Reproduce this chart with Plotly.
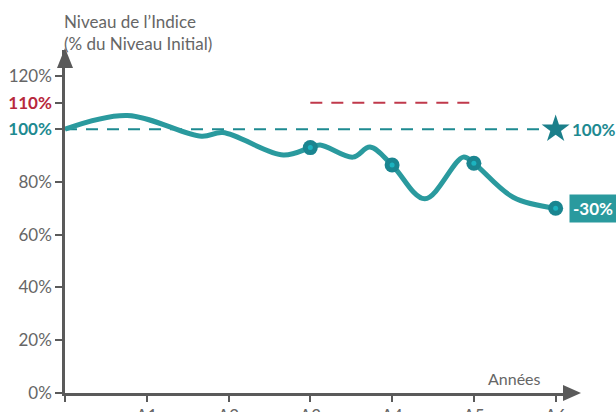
import plotly.graph_objects as go

# ---- data ----
curve_x = [0, 0.76, 1.67, 1.93, 2.67, 3.0, 3.12, 3.52, 3.73, 4.0, 4.40, 4.87, 5.0, 5.48, 6.0]
curve_y = [100, 105.2, 97.3, 98.7, 90.2, 93.0, 94.0, 89.4, 93.2, 86.4, 73.6, 89.4, 87.1, 74.2, 70.0]
obs_x = [3, 4, 5, 6]
obs_y = [93.0, 86.4, 87.1, 70.0]
x_ticks = [0, 1, 2, 3, 4, 5, 6]
x_labels = ["", "A1", "A2", "A3", "A4", "A5", "A6"]
y_ticks = [0, 20, 40, 60, 80, 100, 110, 120]
y_labels = ["0%", "20%", "40%", "60%", "80%",
            "<b><span style='color:#1e8a91'>100%</span></b>",
            "<b><span style='color:#b8283c'>110%</span></b>", "120%"]
initial_level = 100
barrier_level = 110
barrier_x = [3, 5]
final_label = "-30%"

TEAL = "#2a9a9e"
DARK = "#1a8590"
GRAY = "#5a5a5a"
FONT = "Lato"

W, H = 616, 412
L, R, T, B = 65, 44, 50, 19
XR = [0, 6.2]
YR = [0, 130]

def px2paper(px, py):
    return (px - L) / (W - L - R), (H - B - py) / (H - T - B)

fig = go.Figure()

# initial level dashed line
fig.add_trace(go.Scatter(x=[0, 5.85], y=[initial_level, initial_level], mode="lines",
                         line=dict(color="#1e8a91", width=2, dash="12px,9px"),
                         hoverinfo="skip", showlegend=False))
# barrier dashed line
fig.add_trace(go.Scatter(x=barrier_x, y=[barrier_level, barrier_level], mode="lines",
                         line=dict(color="#c0394b", width=2, dash="12px,9px"),
                         hoverinfo="skip", showlegend=False))
# curve
fig.add_trace(go.Scatter(x=curve_x, y=curve_y, mode="lines",
                         line=dict(color=TEAL, width=5, shape="spline", smoothing=1.0),
                         hoverinfo="skip", showlegend=False))
# observation markers
fig.add_trace(go.Scatter(x=obs_x, y=obs_y, mode="markers",
                         marker=dict(size=15, color=DARK), showlegend=False, hoverinfo="skip"))
fig.add_trace(go.Scatter(x=obs_x, y=obs_y, mode="markers",
                         marker=dict(size=5, color="#1cb3c0"), showlegend=False, hoverinfo="skip"))
# star
fig.add_trace(go.Scatter(x=[6], y=[initial_level], mode="markers",
                         marker=dict(symbol="star", size=21, color="#1b7f8a"),
                         showlegend=False, hoverinfo="skip", cliponaxis=False))

axis_common = dict(showgrid=False, zeroline=False, automargin=False,
                   showline=True, linecolor=GRAY, linewidth=2.5, ticks="outside",
                   tickwidth=2, tickcolor=GRAY, tickfont=dict(size=17, color="#666666"))

fig.update_layout(
    width=W, height=H, margin=dict(l=L, r=R, t=T, b=B, autoexpand=False),
    paper_bgcolor="white", plot_bgcolor="white",
    font=dict(family=FONT, size=17, color="#666666"),
    xaxis=dict(range=XR, tickvals=x_ticks, ticktext=x_labels, ticklen=6, **axis_common),
    yaxis=dict(range=YR, tickvals=y_ticks, ticktext=y_labels, ticklen=7, **axis_common),
)

# arrowheads
x0, y0 = px2paper(65, 48)
xa, ya = px2paper(57, 68)
xb, yb = px2paper(73, 68)
fig.add_shape(type="path", xref="paper", yref="paper",
              path=f"M {xa} {ya} L {x0} {y0} L {xb} {yb} Z", fillcolor=GRAY, line=dict(width=0))
x0, y0 = px2paper(581, 393)
xa, ya = px2paper(563, 385)
xb, yb = px2paper(563, 401)
fig.add_shape(type="path", xref="paper", yref="paper",
              path=f"M {xa} {ya} L {x0} {y0} L {xb} {yb} Z", fillcolor=GRAY, line=dict(width=0))

# axis titles
ax_, ay_ = px2paper(62, 9)
fig.add_annotation(xref="paper", yref="paper", x=ax_, y=ay_, xanchor="left", yanchor="top",
                   text="Niveau de l\u2019Indice<br>(% du Niveau Initial)", showarrow=False,
                   align="left", font=dict(size=17, color="#666666"))
ax_, ay_ = px2paper(543, 378)
fig.add_annotation(xref="paper", yref="paper", x=ax_, y=ay_, xanchor="right", yanchor="middle",
                   text="Années", showarrow=False, font=dict(size=16, color="#666666"))

# labels
fig.add_annotation(x=6, y=initial_level, text="<b>100%</b>", showarrow=False, xanchor="left",
                   xshift=14, font=dict(size=17, color="#1e8a91"))
fig.add_annotation(x=6, y=obs_y[-1], text=f"<b>{final_label}</b>", showarrow=False,
                   xanchor="left", xshift=13, bgcolor=TEAL, borderpad=3,
                   font=dict(size=17, color="white"))

fig.write_html("out.html", config={"displayModeBar": False},
               post_script="document.body.style.margin='0';document.body.style.overflow='hidden';")
